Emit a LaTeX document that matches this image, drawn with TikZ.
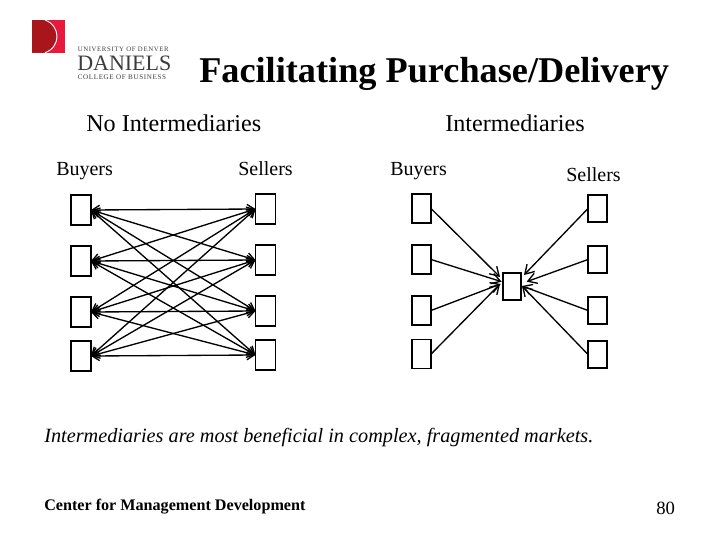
\documentclass[tikz,border=0pt]{standalone}
\usepackage{fontspec}
\usepackage{xcolor}
\usetikzlibrary{arrows.meta, positioning}
\setmainfont{Liberation Serif}
\newfontfamily\logofont[LetterSpace=9]{Liberation Serif}
\definecolor{logodark}{RGB}{168,22,28}
\definecolor{logolight}{RGB}{232,24,62}
\definecolor{logotext}{RGB}{60,60,60}

\begin{document}
\begin{tikzpicture}[
      x=0.75pt, y=-0.75pt,
      box/.style={rectangle, draw=black, line width=1.15pt, fill=white, inner sep=0pt,
        outer sep=0pt, minimum width=15pt, minimum height=22.5pt},
      slimbox/.style={box, minimum width=14.25pt, minimum height=21.75pt},
      shortbox/.style={box, minimum width=14.25pt, minimum height=20.25pt},
      hub/.style={box, minimum width=13.5pt, minimum height=20.25pt},
      arr/.style={{Straight Barb[length=5.5pt,width=7pt]}-{Straight Barb[length=5.5pt,width=7pt]}, line width=1pt},
      single/.style={-{Straight Barb[length=6.5pt,width=8pt]}, line width=1pt},
      headtext/.style={anchor=base west, inner sep=0pt, font=\fontsize{18.1}{20}\selectfont},
      sidetext/.style={anchor=base west, inner sep=0pt, font=\fontsize{15}{17}\selectfont}]
    \useasboundingbox (0,0) rectangle (728,546);
    % logo
    \fill[logolight] (32,20) rectangle (65.3,52.7);
    \fill[logodark] (32,20) -- (45,20) .. controls (61,26) and (61,47) .. (45,52.7) -- (32,52.7) -- cycle;
    \draw[white, line width=0.7pt] (45,20) .. controls (61,26) and (61,47) .. (45,52.7);
    \node[anchor=base west, inner sep=0pt, text=logotext, font=\logofont\fontsize{5.1}{6}\selectfont] (unitext) at (77.5,51) {UNIVERSITY OF DENVER};
    \node[anchor=base west, inner sep=0pt, text=logotext, font=\fontsize{16.5}{18}\selectfont] (danielstext) at (77,70) {DANIELS};
    \node[anchor=base west, inner sep=0pt, text=logotext, font=\logofont\fontsize{5.3}{6}\selectfont] (colltext) at (77.5,79) {COLLEGE OF BUSINESS};

    \node[anchor=base west, inner sep=0pt, font=\bfseries\fontsize{27.2}{29}\selectfont] (title) at (199,82) {Facilitating Purchase/Delivery};
    \node[headtext] (nohead) at (86,131) {No Intermediaries};
    \node[headtext] (yeshead) at (445,131) {Intermediaries};
    \node[sidetext] (buyers1) at (56,175) {Buyers};
    \node[sidetext] (sellers1) at (238,175) {Sellers};
    \node[sidetext] (buyers2) at (390,175) {Buyers};
    \node[sidetext] (sellers2) at (566,181) {Sellers};

    % no intermediaries
    \node[box] (a1) at (81,210) {};
    \node[box, below=15.75pt of a1] (a2) {};
    \node[box, below=15.75pt of a2] (a3) {};
    \node[box, below=10.5pt of a3] (a4) {};
    \node[box] (b1) at (265.5,209) {};
    \node[box, below=15.75pt of b1] (b2) {};
    \node[box, below=15.75pt of b2] (b3) {};
    \node[box, below=10.5pt of b3] (b4) {};
    \draw[arr] (a1.east) -- (b1.west);
    \draw[arr] (a1.east) -- (b2.west);
    \draw[arr] (a1.east) -- (b3.west);
    \draw[arr] (a1.east) -- (b4.west);
    \draw[arr] (a2.east) -- (b1.west);
    \draw[arr] (a2.east) -- (b2.west);
    \draw[arr] (a2.east) -- (b3.west);
    \draw[arr] (a2.east) -- (b4.west);
    \draw[arr] (a3.east) -- (b1.west);
    \draw[arr] (a3.east) -- (b2.west);
    \draw[arr] (a3.east) -- (b3.west);
    \draw[arr] (a3.east) -- (b4.west);
    \draw[arr] (a4.east) -- (b1.west);
    \draw[arr] (a4.east) -- (b2.west);
    \draw[arr] (a4.east) -- (b3.west);
    \draw[arr] (a4.east) -- (b4.west);

    % intermediaries
    \node[slimbox] (c1) at (421.5,208.5) {};
    \node[slimbox, below=16.5pt of c1] (c2) {};
    \node[slimbox, below=16.5pt of c2] (c3) {};
    \node[slimbox, below=11pt of c3] (c4) {};
    \node[shortbox] (d1) at (597.5,208.5) {};
    \node[shortbox, below=18pt of d1] (d2) {};
    \node[shortbox, below=18pt of d2] (d3) {};
    \node[shortbox, below=12.75pt of d3] (d4) {};
    \node[hub] (m) at (512,286.5) {};
    \draw[single] (c1.east) -- ([xshift=-2.25pt,yshift=-3pt]m.north west);
    \draw[single] (c2.east) -- ([xshift=-1pt,yshift=-6.5pt]m.north west);
    \draw[single] (c3.east) -- ([xshift=-1.75pt,yshift=-8.25pt]m.north west);
    \draw[single] (c4.east) -- ([xshift=-2.25pt,yshift=-8.25pt]m.north west);
    \draw[single] (d1.west) -- ([xshift=2.25pt,yshift=-1.5pt]m.north east);
    \draw[single] (d2.west) -- ([xshift=4.25pt,yshift=-6.5pt]m.north east);
    \draw[single] (d3.west) -- ([xshift=0.75pt,yshift=-9.75pt]m.north east);
    \draw[single] (d4.west) -- ([xshift=0.75pt,yshift=-9.75pt]m.north east);

    \node[anchor=base west, inner sep=0pt, font=\itshape\fontsize{15.2}{17}\selectfont] (note) at (44,442) {Intermediaries are most beneficial in complex, fragmented markets.};
    \node[anchor=base west, inner sep=0pt, font=\bfseries\fontsize{12.1}{14}\selectfont] (footer) at (44,510) {Center for Management Development};
    \node[anchor=base west, inner sep=0pt, font=\fontsize{14}{16}\selectfont] (pagenum) at (656,514) {80};
  \end{tikzpicture}
\end{document}
